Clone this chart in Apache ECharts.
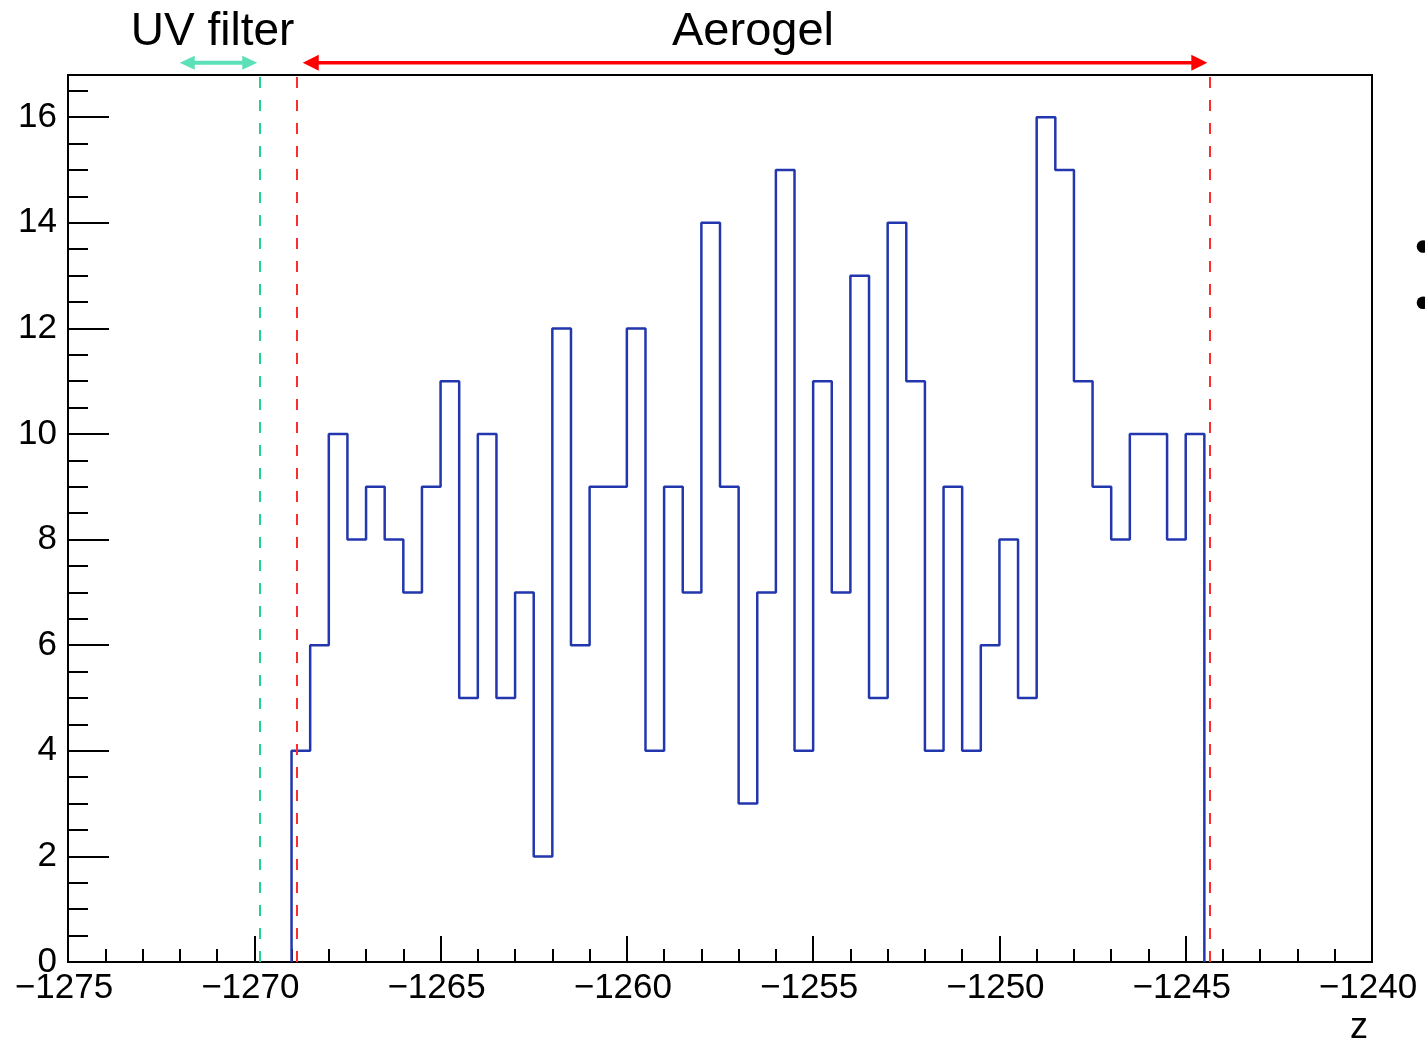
<!DOCTYPE html>
<html>
<head>
<meta charset="utf-8">
<script src="https://cdn.jsdelivr.net/npm/echarts@6/dist/echarts.min.js"></script>
<style>
html,body{margin:0;padding:0;background:#fff;}
#chart{width:1425px;height:1039px;}
</style>
</head>
<body>
<div id="chart"></div>
<script>
// ---- data ----
const binLow = -1269;          // lower edge of first filled bin
const binWidth = 0.5;
const counts = [4,6,10,8,9,8,7,9,11,5,10,5,7,2,12,6,9,9,12,4,9,7,14,9,3,7,15,4,11,7,13,5,14,11,4,9,4,6,8,5,16,15,11,9,8,10,10,8,10];
const xRange = [-1275, -1240];
const yRange = [0, 16.8];
const uvFilterLine = [-1269.86];
const aerogelLines = [-1268.87, -1244.35];
const uvFilterArrow = [-1272.0, -1269.92];
const aerogelArrow = [-1268.7, -1244.42];
const arrowLevel = 17.03;
const labels = ['UV filter', 'Aerogel'];
const xTitle = 'z';

// ---- build step data ----
const stepData = [[binLow, 0]];
counts.forEach((c, i) => stepData.push([binLow + i * binWidth, c]));
stepData.push([binLow + counts.length * binWidth, 0]);

const FONT = '"Liberation Sans", Arial, Helvetica, sans-serif';
const fmtMinus = v => String(v).replace('-', '\u2212');

const chart = echarts.init(document.getElementById('chart'), null, {renderer: 'canvas'});

const dashed = (v, color) => ({xAxis: v, lineStyle: {color: color, type: [11, 12], width: 2}});

chart.setOption({
  animation: false,
  backgroundColor: '#fff',
  grid: {left: 68, right: 53, top: 75, bottom: 77, show: true, borderColor: '#000', borderWidth: 2,
         containLabel: false, outerBoundsMode: 'none'},
  xAxis: {
    type: 'value', min: xRange[0], max: xRange[1], interval: 5,
    position: 'bottom',
    splitLine: {show: false},
    axisLine: {show: true, lineStyle: {color: '#000', width: 2}},
    axisTick: {show: true, inside: true, length: 26, lineStyle: {color: '#000', width: 2}},
    minorTick: {show: true, splitNumber: 5, length: 13, lineStyle: {color: '#000', width: 2}},
    axisLabel: {show: true, color: '#000', fontSize: 35, fontFamily: FONT, margin: 9, formatter: fmtMinus, padding: [0, 8, 0, 0]},
    name: xTitle, nameLocation: 'end', nameGap: -4,
    nameTextStyle: {color: '#000', fontSize: 36, fontFamily: FONT, align: 'right', verticalAlign: 'top', padding: [48, 0, 0, 0]}
  },
  yAxis: [
    {
      type: 'value', min: yRange[0], max: yRange[1], interval: 2, position: 'left',
      splitLine: {show: false},
      axisLine: {show: true, lineStyle: {color: '#000', width: 2}},
      axisTick: {show: true, inside: true, length: 41, lineStyle: {color: '#000', width: 2}},
      axisLabel: {show: true, color: '#000', fontSize: 35, fontFamily: FONT, margin: 11,
        formatter: v => (Math.abs(v % 2) < 1e-9 && v <= 16) ? String(v) : ''}
    },
    {
      type: 'value', min: yRange[0], max: yRange[1], interval: 0.5, position: 'left', offset: 0,
      splitLine: {show: false},
      axisLine: {show: false},
      axisTick: {show: true, inside: true, length: 20, lineStyle: {color: '#000', width: 2}},
      axisLabel: {show: false}
    }
  ],
  series: [{
    type: 'line',
    step: 'end',
    xAxisIndex: 0, yAxisIndex: 0,
    data: stepData,
    symbol: 'none',
    lineStyle: {color: '#2236ad', width: 2.5},
    z: 3,
    markLine: {
      silent: true, symbol: ['none', 'none'], label: {show: false},
      animation: false,
      data: [
        dashed(uvFilterLine[0], '#1fd38f'),
        dashed(aerogelLines[0], '#ff2b2b'),
        dashed(aerogelLines[1], '#ff2b2b')
      ]
    }
  }]
});

// ---- annotations (arrows and labels) positioned from data values ----
function px(x, y) { return chart.convertToPixel({xAxisIndex: 0, yAxisIndex: 0}, [x, y]); }
function arrowGraphic(range, color, headLen, headHalf, width) {
  const a = px(range[0], arrowLevel), b = px(range[1], arrowLevel);
  const y = a[1];
  return [
    {type: 'line', shape: {x1: a[0] + headLen - 1, y1: y, x2: b[0] - headLen + 1, y2: y}, style: {stroke: color, lineWidth: width}, z: 10},
    {type: 'polygon', shape: {points: [[a[0], y], [a[0] + headLen, y - headHalf], [a[0] + headLen, y + headHalf]]}, style: {fill: color}, z: 10},
    {type: 'polygon', shape: {points: [[b[0], y], [b[0] - headLen, y - headHalf], [b[0] - headLen, y + headHalf]]}, style: {fill: color}, z: 10}
  ];
}
function labelGraphic(text, range, dx, size) {
  const a = px(range[0], arrowLevel), b = px(range[1], arrowLevel);
  return {type: 'text', x: (a[0] + b[0]) / 2 + dx, y: a[1] - 31,
    style: {text: text, fill: '#000', font: size + 'px ' + FONT, align: 'center', verticalAlign: 'middle'}, z: 10};
}
const gfx = []
  .concat(arrowGraphic(uvFilterArrow, '#5be0b7', 15, 7, 4))
  .concat(arrowGraphic(aerogelArrow, '#ff0000', 16, 8, 3.5));
gfx.push(labelGraphic(labels[0], uvFilterArrow, -6, 46));
gfx.push(labelGraphic(labels[1], aerogelArrow, -2, 47));
// slide bullet marks at right edge
gfx.push({type: 'circle', shape: {cx: 1423, cy: 246.5, r: 6.3}, style: {fill: '#000'}});
gfx.push({type: 'circle', shape: {cx: 1423, cy: 302.7, r: 6.3}, style: {fill: '#000'}});
chart.setOption({graphic: gfx});
</script>
</body>
</html>
